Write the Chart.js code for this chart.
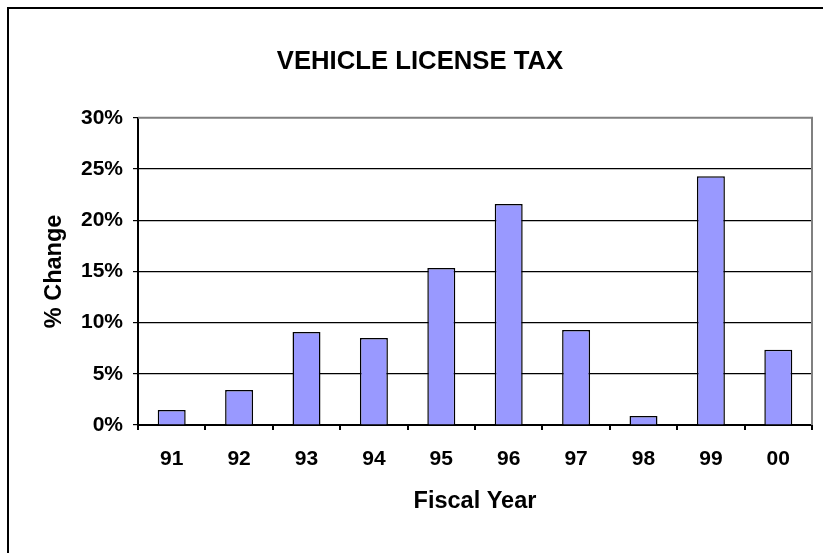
<!DOCTYPE html>
<html>
<head>
<meta charset="utf-8">
<script src="https://cdn.jsdelivr.net/npm/chart.js@4/dist/chart.umd.min.js"></script>
<style>
	html, body { margin: 0; padding: 0; background: #fff; }
	#wrap { width: 823px; height: 553px; }
</style>
</head>
<body>
<div id="wrap"><canvas id="chart" width="823" height="553"></canvas></div>
<script>
const years = ["91", "92", "93", "94", "95", "96", "97", "98", "99", "00"];
const pctChange = [1.46, 3.42, 9.08, 8.5, 15.33, 21.58, 9.28, 0.88, 24.3, 7.35];
const yTicks = [0, 5, 10, 15, 20, 25, 30];

const FONT = "'Liberation Sans', Arial, sans-serif";

// outer frame plus grey plot-area border on top and right
const framePlugin = {
	id: "frame",
	beforeDraw(chart) {
		const ctx = chart.ctx;
		ctx.save();
		ctx.fillStyle = "#fff";
		ctx.fillRect(0, 0, chart.width, chart.height);
		ctx.fillStyle = "#000";
		ctx.fillRect(7, 7, 2, chart.height - 7);
		ctx.fillRect(7, 7, chart.width - 7, 2);
		ctx.restore();
	},
	afterDatasetsDraw(chart) {
		const {ctx, chartArea: a} = chart;
		ctx.save();
		ctx.strokeStyle = "#808080";
		ctx.lineWidth = 2;
		ctx.beginPath();
		ctx.moveTo(a.left, a.top);
		ctx.lineTo(a.right, a.top);
		ctx.lineTo(a.right, a.bottom);
		ctx.stroke();
		ctx.restore();
	}
};

new Chart(document.getElementById("chart"), {
	type: "bar",
	data: {
		labels: years,
		datasets: [{
			data: pctChange,
			backgroundColor: "#9999FF",
			borderColor: "#000",
			borderWidth: 1.5,
			barPercentage: 0.415,
			categoryPercentage: 1
		}]
	},
	options: {
		responsive: false,
		devicePixelRatio: 1,
		animation: false,
		layout: {padding: {left: 28, right: 11, top: 0, bottom: 0}},
		plugins: {
			legend: {display: false},
			tooltip: {enabled: false},
			title: {
				display: true,
				text: "VEHICLE LICENSE TAX",
				color: "#000",
				font: {family: FONT, size: 25.7, weight: "bold"},
				padding: {top: 46, bottom: 41}
			}
		},
		scales: {
			x: {
				afterFit: s => { s.height = 128; },
				grid: {
					offset: true,
					drawOnChartArea: false,
					color: "#000",
					lineWidth: 2,
					tickLength: 5
				},
				border: {color: "#000", width: 2},
				ticks: {
					color: "#000",
					padding: 17,
					font: {family: FONT, size: 21, weight: "bold"}
				},
				title: {
					display: true,
					text: "Fiscal Year",
					color: "#000",
					font: {family: FONT, size: 23.5, weight: "bold"},
					padding: {top: 0, bottom: 37}
				}
			},
			y: {
				min: 0,
				max: 30,
				afterFit: s => { s.width = 110; },
				afterBuildTicks: s => { s.ticks = yTicks.map(v => ({value: v})); },
				grid: {
					color: c => (c.tick && c.tick.value === 30 ? "rgba(0,0,0,0)" : "#000"),
					tickColor: "#000",
					lineWidth: 1.2,
					tickLength: 5
				},
				border: {color: "#000", width: 2},
				ticks: {
					color: "#000",
					padding: 10,
					font: {family: FONT, size: 21, weight: "bold"},
					callback: v => v + "%"
				},
				title: {
					display: true,
					text: "% Change",
					color: "#000",
					font: {family: FONT, size: 23.5, weight: "bold"},
					padding: {top: 12, bottom: 0}
				}
			}
		}
	},
	plugins: [framePlugin]
});
</script>
</body>
</html>
